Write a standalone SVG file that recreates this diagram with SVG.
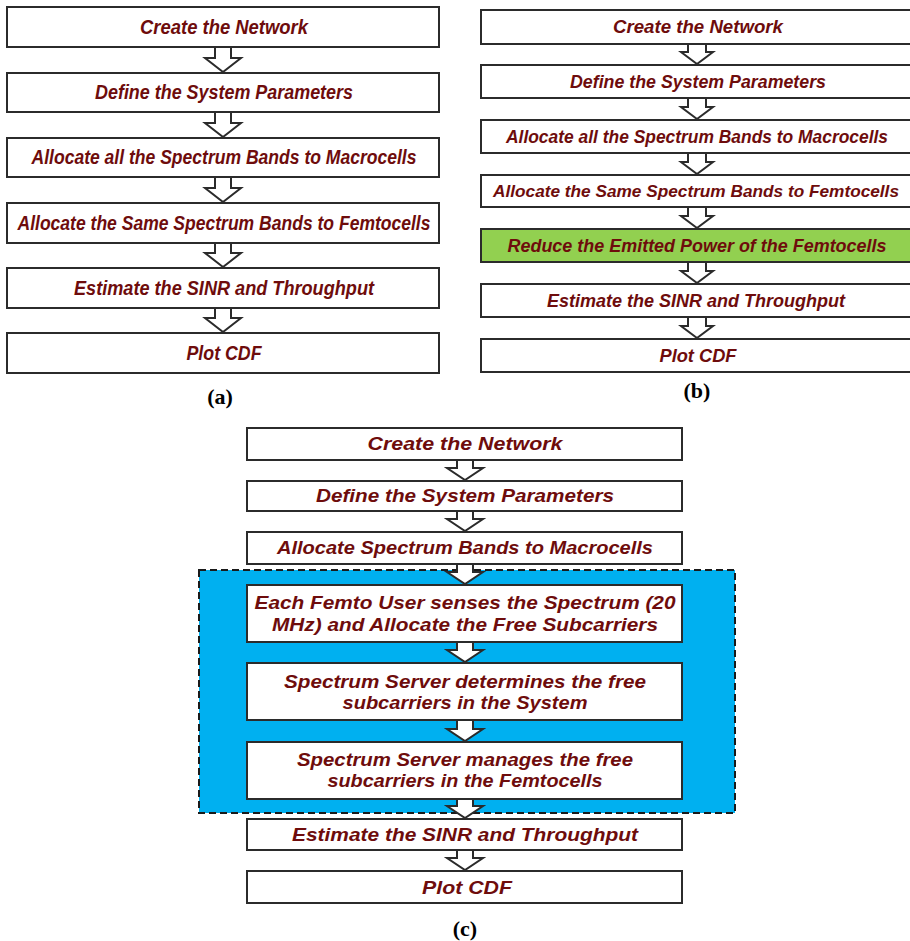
<svg xmlns="http://www.w3.org/2000/svg" width="910" height="941" viewBox="0 0 910 941">
<style>
.box{fill:#fff;stroke:#2b2b2b;stroke-width:2}
.green{fill:#92d050;stroke:#2b2b2b;stroke-width:2}
.t{font-family:"Liberation Sans",Arial,sans-serif;font-weight:bold;font-style:italic;font-size:18px;fill:#6e0c0c;text-anchor:middle}
.ta{font-size:20px}
.arr{fill:#fff;stroke:#2b2b2b;stroke-width:2;stroke-linejoin:miter}
.lab{font-family:"Liberation Serif","Times New Roman",serif;font-weight:bold;font-size:22px;fill:#000;text-anchor:middle}
</style>
<rect width="910" height="941" fill="#fff"/>
<rect id="blue-region" x="199" y="570" width="536" height="243" fill="#00b0f0" stroke="#1a1a1a" stroke-width="2" stroke-dasharray="7,4"/>
<g id="connectors">
<!-- (a) -->
<path class="arr" d="M215,47 V58 H205 L223,72 L241,58 H231 V47"/>
<path class="arr" d="M215,112 V123 H205 L223,137 L241,123 H231 V112"/>
<path class="arr" d="M215,177 V188 H205 L223,202 L241,188 H231 V177"/>
<path class="arr" d="M215,243 V253 H205 L223,267 L241,253 H231 V243"/>
<path class="arr" d="M215,308 V318 H205 L223,332 L241,318 H231 V308"/>
<!-- (b) -->
<path class="arr" d="M688,44 V52 H681 L697,64 L713,52 H706 V44"/>
<path class="arr" d="M688,98 V107 H681 L697,119 L713,107 H706 V98"/>
<path class="arr" d="M688,153 V162 H681 L697,174 L713,162 H706 V153"/>
<path class="arr" d="M688,207 V216 H681 L697,228 L713,216 H706 V207"/>
<path class="arr" d="M688,262 V271 H681 L697,283 L713,271 H706 V262"/>
<path class="arr" d="M688,317 V326 H681 L697,338 L713,326 H706 V317"/>
<!-- (c) -->
<path class="arr" d="M457,460 V468 H447 L465,480 L483,468 H473 V460"/>
<path class="arr" d="M457,511 V519 H447 L465,531 L483,519 H473 V511"/>
<path class="arr" d="M457,564 V572 H447 L465,584 L483,572 H473 V564"/>
<path class="arr" d="M457,642 V650 H447 L465,662 L483,650 H473 V642"/>
<path class="arr" d="M457,720 V729 H447 L465,741 L483,729 H473 V720"/>
<path class="arr" d="M457,799 V806 H447 L465,818 L483,806 H473 V799"/>
<path class="arr" d="M457,850 V858 H447 L465,870 L483,858 H473 V850"/>
</g>
<!-- Panel (a) -->
<g id="a1"><rect class="box" x="7" y="7" width="432" height="40"/><text class="t ta" x="224" y="34" textLength="168" lengthAdjust="spacingAndGlyphs">Create the Network</text></g>
<g id="a2"><rect class="box" x="7" y="73" width="432" height="39"/><text class="t ta" x="224" y="99" textLength="258" lengthAdjust="spacingAndGlyphs">Define the System Parameters</text></g>
<g id="a3"><rect class="box" x="7" y="138" width="432" height="39"/><text class="t ta" x="224" y="164" textLength="385" lengthAdjust="spacingAndGlyphs">Allocate all the Spectrum Bands to Macrocells</text></g>
<g id="a4"><rect class="box" x="7" y="203" width="432" height="40"/><text class="t ta" x="224" y="230" textLength="413" lengthAdjust="spacingAndGlyphs">Allocate the Same Spectrum Bands to Femtocells</text></g>
<g id="a5"><rect class="box" x="7" y="268" width="432" height="40"/><text class="t ta" x="224" y="295" textLength="300" lengthAdjust="spacingAndGlyphs">Estimate the SINR and Throughput</text></g>
<g id="a6"><rect class="box" x="7" y="333" width="432" height="40"/><text class="t ta" x="224" y="360" textLength="75" lengthAdjust="spacingAndGlyphs">Plot CDF</text></g>
<text class="lab" x="220" y="404">(a)</text>
<!-- Panel (b) -->
<g id="b1"><rect class="box" x="481" y="10" width="432" height="34"/><text class="t" x="698" y="33" textLength="170" lengthAdjust="spacingAndGlyphs">Create the Network</text></g>
<g id="b2"><rect class="box" x="481" y="65" width="432" height="33"/><text class="t" x="698" y="88" textLength="256" lengthAdjust="spacingAndGlyphs">Define the System Parameters</text></g>
<g id="b3"><rect class="box" x="481" y="120" width="432" height="33"/><text class="t" x="697" y="143" textLength="382" lengthAdjust="spacingAndGlyphs">Allocate all the Spectrum Bands to Macrocells</text></g>
<g id="b4"><rect class="box" x="481" y="175" width="432" height="32"/><text class="t" style="font-size:16.5px" x="696" y="197" textLength="406" lengthAdjust="spacingAndGlyphs">Allocate the Same Spectrum Bands to Femtocells</text></g>
<g id="b5"><rect class="green" x="481" y="229" width="432" height="33"/><text class="t" x="697" y="252" textLength="379" lengthAdjust="spacingAndGlyphs">Reduce the Emitted Power of the Femtocells</text></g>
<g id="b6"><rect class="box" x="481" y="284" width="432" height="33"/><text class="t" x="696" y="307" textLength="298" lengthAdjust="spacingAndGlyphs">Estimate the SINR and Throughput</text></g>
<g id="b7"><rect class="box" x="481" y="339" width="432" height="33"/><text class="t" x="698" y="362" textLength="77" lengthAdjust="spacingAndGlyphs">Plot CDF</text></g>
<text class="lab" x="697" y="398">(b)</text>
<!-- Panel (c) -->
<g id="c1"><rect class="box" x="247" y="428" width="435" height="32"/><text class="t" x="465" y="450" textLength="195" lengthAdjust="spacingAndGlyphs">Create the Network</text></g>
<g id="c2"><rect class="box" x="247" y="481" width="435" height="30"/><text class="t" x="465" y="502" textLength="298" lengthAdjust="spacingAndGlyphs">Define the System Parameters</text></g>
<g id="c3"><rect class="box" x="247" y="532" width="435" height="32"/><text class="t" x="465" y="554" textLength="376" lengthAdjust="spacingAndGlyphs">Allocate Spectrum Bands to Macrocells</text></g>
<g id="c4"><rect class="box" x="247" y="585" width="435" height="57"/><text class="t" x="465" y="609" textLength="421" lengthAdjust="spacingAndGlyphs">Each Femto User senses the Spectrum (20</text><text class="t" x="465" y="631" textLength="386" lengthAdjust="spacingAndGlyphs">MHz) and Allocate the Free Subcarriers</text></g>
<g id="c5"><rect class="box" x="247" y="663" width="435" height="57"/><text class="t" x="465" y="688" textLength="362" lengthAdjust="spacingAndGlyphs">Spectrum Server determines the free</text><text class="t" x="465" y="709" textLength="245" lengthAdjust="spacingAndGlyphs">subcarriers in the System</text></g>
<g id="c6"><rect class="box" x="247" y="742" width="435" height="57"/><text class="t" x="465" y="766" textLength="336" lengthAdjust="spacingAndGlyphs">Spectrum Server manages the free</text><text class="t" x="465" y="787" textLength="275" lengthAdjust="spacingAndGlyphs">subcarriers in the Femtocells</text></g>
<g id="c7"><rect class="box" x="247" y="819" width="435" height="31"/><text class="t" x="465" y="841" textLength="346" lengthAdjust="spacingAndGlyphs">Estimate the SINR and Throughput</text></g>
<g id="c8"><rect class="box" x="247" y="871" width="435" height="32"/><text class="t" x="467" y="894" textLength="90" lengthAdjust="spacingAndGlyphs">Plot CDF</text></g>
<text class="lab" x="465" y="936">(c)</text>
</svg>
